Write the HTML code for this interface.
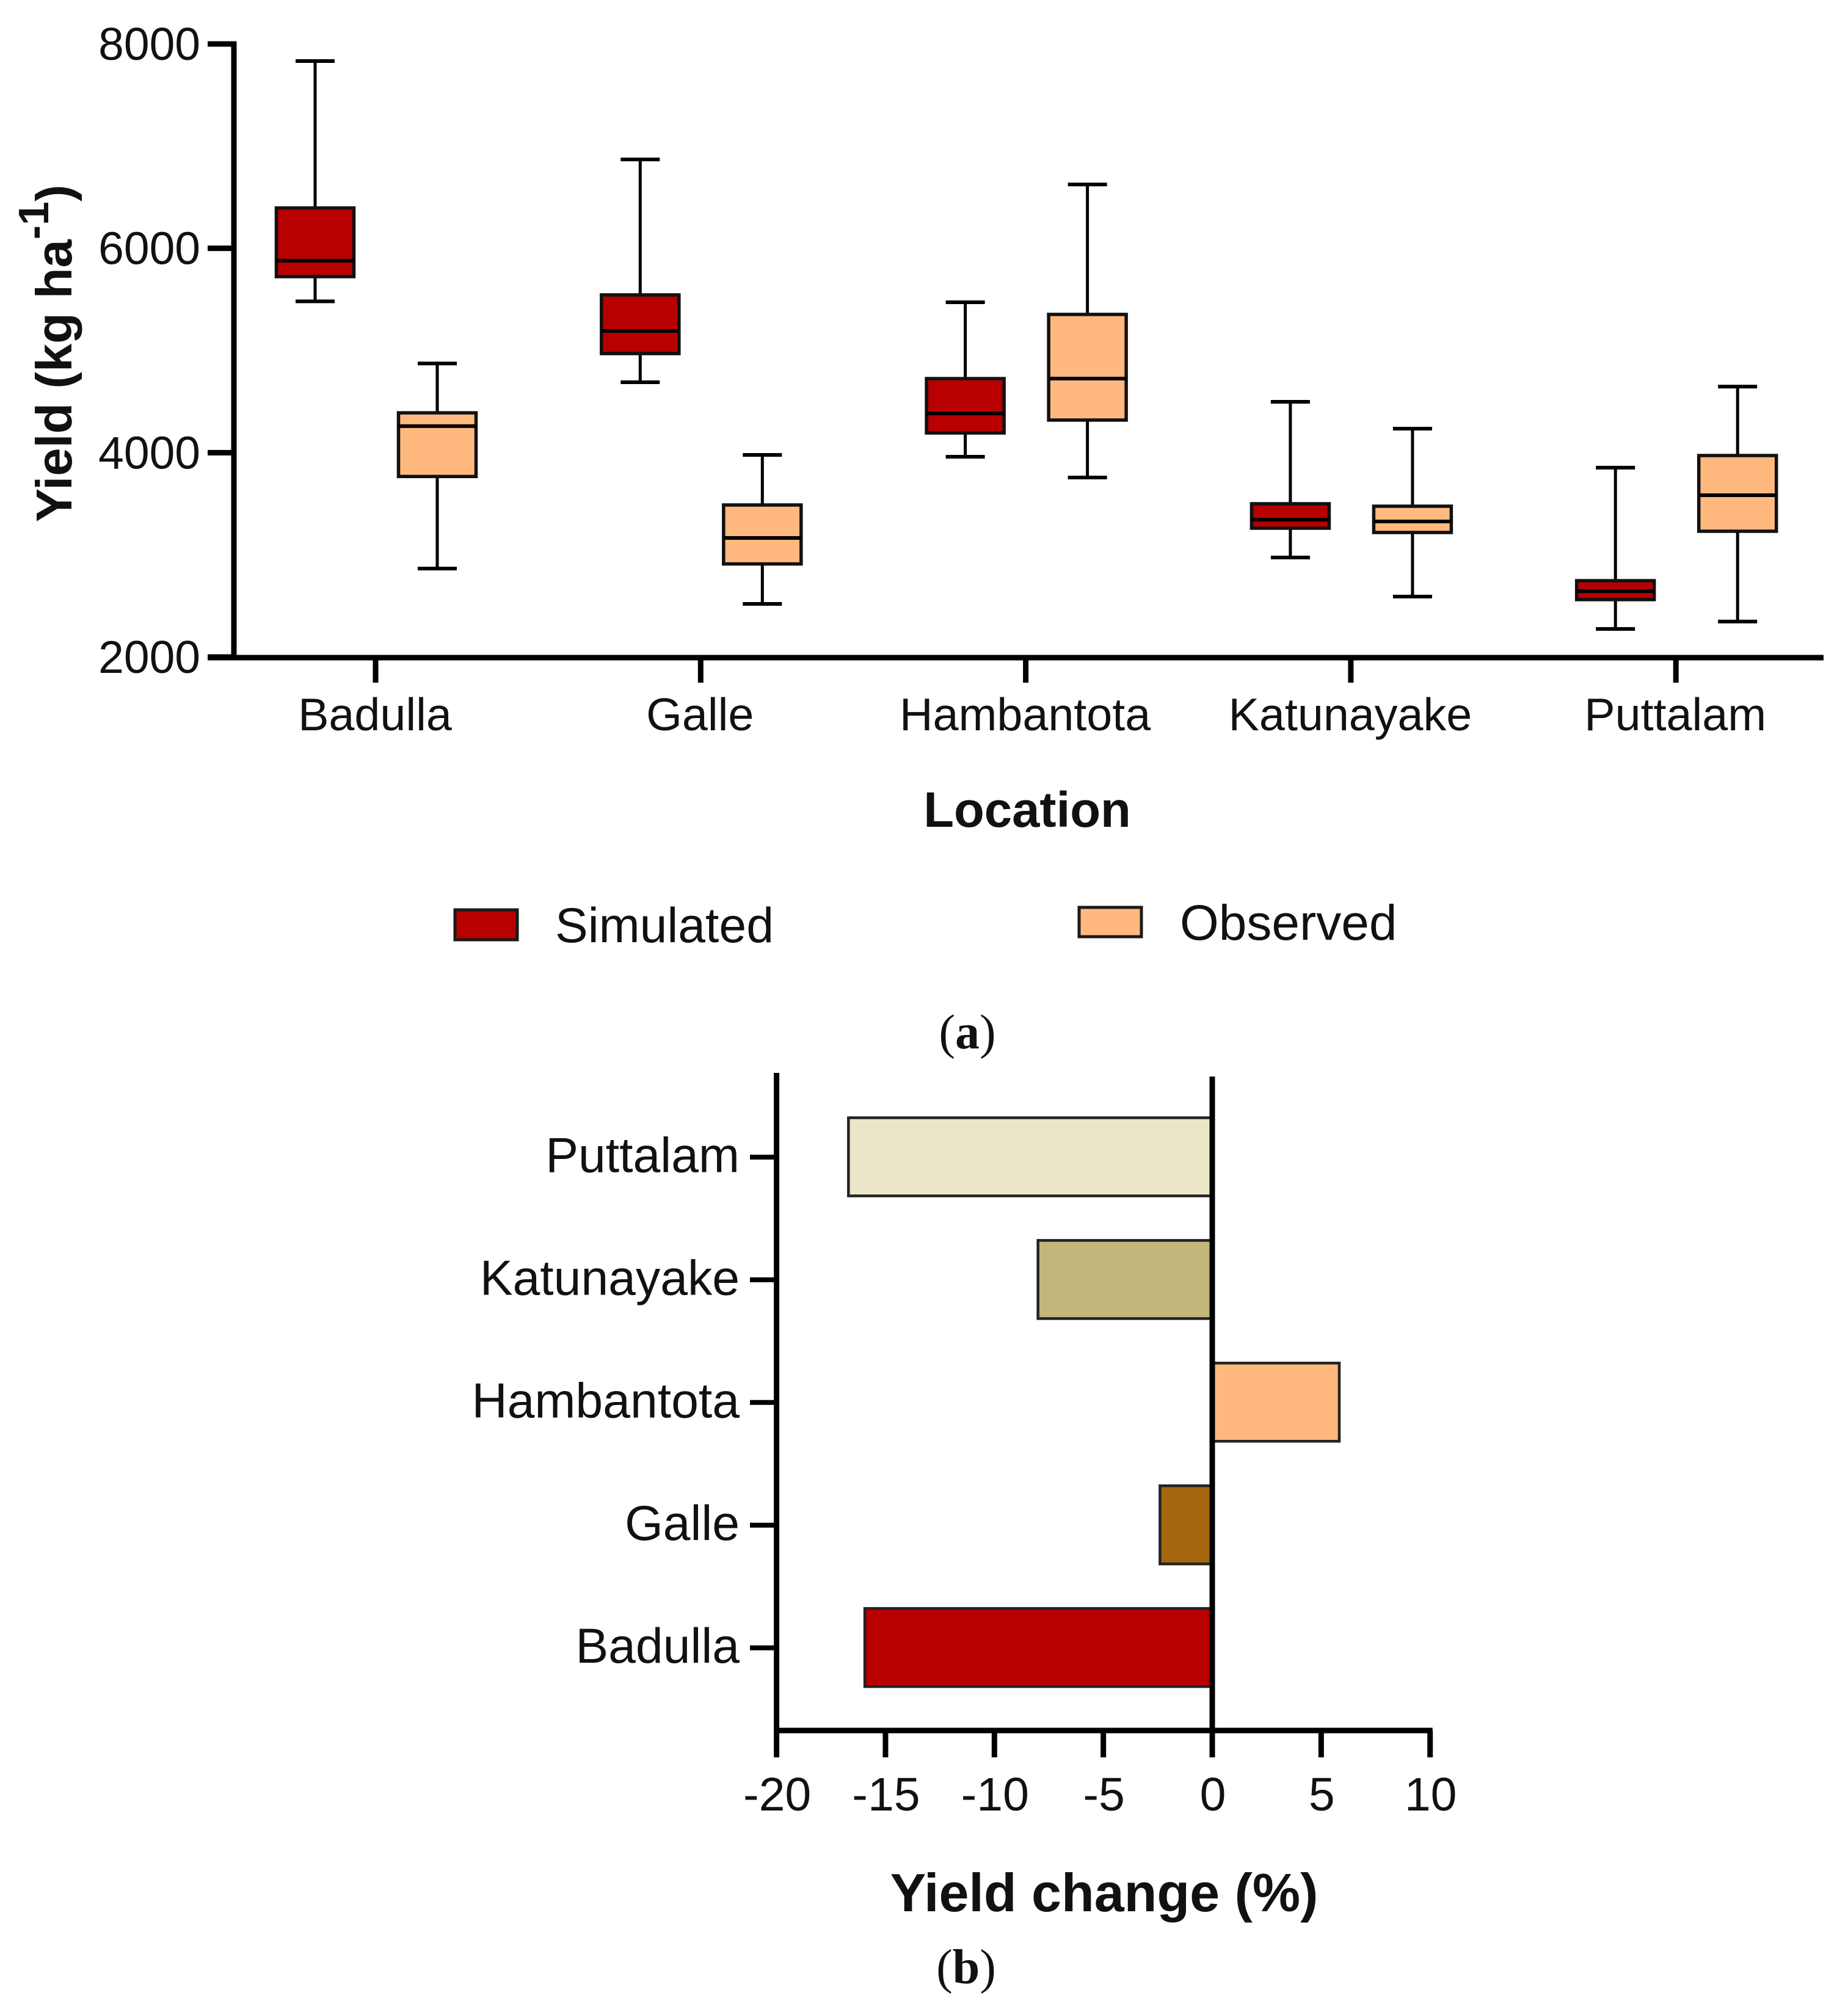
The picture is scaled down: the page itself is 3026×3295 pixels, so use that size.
<!DOCTYPE html>
<html lang="en">
<head>
<meta charset="utf-8">
<title>Yield box plots and yield change</title>
<style>
html,body{margin:0;padding:0;background:#fff;}
svg{display:block;}
text{font-family:"Liberation Sans",Arial,sans-serif;fill:#111;}
.cap{font-family:"Liberation Serif","Times New Roman",serif;}
</style>
</head>
<body>
<svg id="figure" xmlns="http://www.w3.org/2000/svg" width="3026" height="3295" viewBox="0 0 3026 3295">
  <rect x="0" y="0" width="3026" height="3295" fill="#ffffff"/>
  <g id="panelA"></g>
  <text transform="translate(117,855) rotate(-90)" font-size="83" font-weight="700">Yield (kg ha<tspan font-size="70" dy="-38">-1</tspan><tspan dy="38">)</tspan></text>
  <text x="1682" y="1354" font-size="81.5" font-weight="700" text-anchor="middle">Location</text>
  <rect x="745" y="1490" width="102" height="49" fill="#b80000" stroke="#1a1a1a" stroke-width="5"/>
  <text x="909" y="1543" font-size="80.5">Simulated</text>
  <rect x="1767" y="1486" width="102" height="48" fill="#ffb97f" stroke="#1a1a1a" stroke-width="5"/>
  <text x="1932" y="1539" font-size="82">Observed</text>
  <text class="cap" x="1584" y="1717" font-size="80" text-anchor="middle">(<tspan font-weight="700">a</tspan>)</text>
  <g id="panelB"></g>
  <text x="1808" y="3130" font-size="88" font-weight="700" text-anchor="middle">Yield change (%)</text>
  <text class="cap" x="1582" y="3248" font-size="80" text-anchor="middle">(<tspan font-weight="700">b</tspan>)</text>
</svg>
<script>
const locations = ["Badulla", "Galle", "Hambantota", "Katunayake", "Puttalam"];
const yieldTicks = [2000, 4000, 6000, 8000];
const simulatedMin = [5481, 4689, 3960, 2974, 2275];
const simulatedQ1 = [5723, 4970, 4193, 3261, 2562];
const simulatedMedian = [5879, 5191, 4384, 3344, 2645];
const simulatedQ3 = [6395, 5544, 4725, 3500, 2747];
const simulatedMax = [7833, 6870, 5472, 4498, 3853];
const observedMin = [2866, 2520, 3757, 2592, 2347];
const observedQ1 = [3767, 2911, 4319, 3219, 3231];
const observedMedian = [4260, 3165, 4725, 3327, 3584];
const observedQ3 = [4390, 3488, 5353, 3476, 3972];
const observedMax = [4873, 3978, 6625, 4235, 4647];

const changeCategories = ["Puttalam", "Katunayake", "Hambantota", "Galle", "Badulla"];
const changeValues = [-16.7, -8.0, 5.83, -2.4, -15.95];
const changeColors = ["#ece6c8", "#c4b67a", "#ffb97f", "#a4660e", "#b80000"];
const changeTicks = [-20, -15, -10, -5, 0, 5, 10];

const NS = "http://www.w3.org/2000/svg";
function make(parent, tag, attrs, txt) {
  const el = document.createElementNS(NS, tag);
  for (const k in attrs) el.setAttribute(k, attrs[k]);
  if (txt !== undefined) el.textContent = txt;
  parent.appendChild(el);
  return el;
}
function line(parent, x1, y1, x2, y2, w, color) {
  return make(parent, "line", {x1, y1, x2, y2, stroke: color || "#000", "stroke-width": w});
}

/* Panel A scales */
const yieldY = v => 1076 - (v - 2000) * (1076 - 72) / 6000;
const catX = i => 615 + i * 532.3;
const panelA = document.getElementById("panelA");

function drawBox(i, offset, fill, seriesName, mn, q1, med, q3, mx) {
  const cx = catX(i) + offset + 1;
  const g = make(panelA, "g", {});
  
  
  line(g, cx, yieldY(mx), cx, yieldY(q3), 5);
  line(g, cx, yieldY(q1), cx, yieldY(mn), 5);
  line(g, cx - 32, yieldY(mx), cx + 32, yieldY(mx), 6);
  line(g, cx - 32, yieldY(mn), cx + 32, yieldY(mn), 6);
  make(g, "rect", {x: cx - 63.5, y: yieldY(q3), width: 127, height: yieldY(q1) - yieldY(q3), fill: fill, stroke: "#111", "stroke-width": 5.5});
  line(g, cx - 63.5, yieldY(med), cx + 63.5, yieldY(med), 6);
}
locations.forEach((name, i) => {
  drawBox(i, -100, "#b80000", "simulated", simulatedMin[i], simulatedQ1[i], simulatedMedian[i], simulatedQ3[i], simulatedMax[i]);
  drawBox(i, 100, "#ffb97f", "observed", observedMin[i], observedQ1[i], observedMedian[i], observedQ3[i], observedMax[i]);
});

const yAxisA = line(panelA, 383, yieldY(8000) - 4.5, 383, yieldY(2000) + 4.5, 9);


const xAxisA = line(panelA, 340, yieldY(2000) + 1, 2986, yieldY(2000) + 1, 9);



yieldTicks.forEach(v => {
  const tick = line(panelA, 340, yieldY(v), 383, yieldY(v), 9);
  
  
  const label = make(panelA, "text", {x: 328, y: yieldY(v) + 26, "font-size": 75, "text-anchor": "end"}, v);
  
  
});
locations.forEach((name, i) => {
  const tick = line(panelA, catX(i), yieldY(2000), catX(i), 1118, 9);
  
  
  const label = make(panelA, "text", {x: catX(i) - 1, y: 1196, "font-size": 75.5, "text-anchor": "middle"}, name);
  
  
});

/* Panel B scales */
const changeX = v => 1985 + v * 35.67;
const changeY = i => 1893.5 + i * 200.9;
const panelB = document.getElementById("panelB");

changeCategories.forEach((name, i) => {
  const v = changeValues[i];
  const left = Math.min(changeX(v), changeX(0));
  const bar = make(panelB, "rect", {x: left, y: changeY(i) - 63, width: Math.abs(changeX(v) - changeX(0)), height: 128, fill: changeColors[i], stroke: "#222", "stroke-width": 4.5});
  
  
  const tick = line(panelB, 1228, changeY(i) + 1.5, 1273, changeY(i) + 1.5, 8);
  
  
  const label = make(panelB, "text", {x: 1211, y: changeY(i) + 26, "font-size": 80.5, "text-anchor": "end"}, name);
  
  
});

const yAxisB = line(panelB, changeX(-20), 1757, changeX(-20), 2838, 9);


const zeroLine = line(panelB, changeX(0), 1763, changeX(0), 2838, 9);


const xAxisB = line(panelB, changeX(-20) - 4, 2834, changeX(10) + 4, 2834, 9);



changeTicks.forEach(v => {
  const tick = line(panelB, changeX(v), 2834, changeX(v), 2878, 9);
  
  
  const label = make(panelB, "text", {x: changeX(v) + 1, y: 2965, "font-size": 77, "text-anchor": "middle"}, v);
  
  
});
</script>
</body>
</html>
